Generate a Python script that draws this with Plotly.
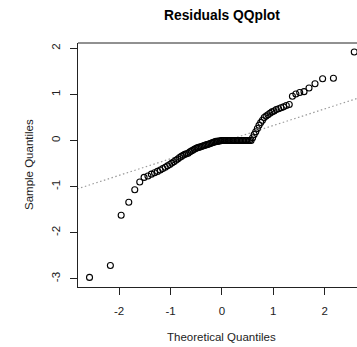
import numpy as np
import plotly.graph_objects as go
from statistics import NormalDist

# Sorted residuals (sample quantiles)
residuals = [
    -2.97, -2.71, -1.62, -1.34, -1.07, -0.90, -0.80, -0.77, -0.73, -0.70,
    -0.67, -0.64, -0.61, -0.58, -0.55, -0.52, -0.49, -0.46, -0.43, -0.40,
    -0.37, -0.345, -0.32, -0.30, -0.29, -0.275, -0.25, -0.23, -0.21, -0.19,
    -0.175, -0.16, -0.15, -0.14, -0.13, -0.12, -0.11, -0.10, -0.09, -0.08,
    -0.07, -0.06, -0.05, -0.04, -0.03, -0.02, -0.02, -0.01, -0.01, 0.00,
    0.00, 0.00, 0.00, 0.00, 0.00, 0.00, 0.00, 0.00, 0.00, 0.00,
    0.00, 0.00, 0.00, 0.00, 0.00, 0.00, 0.00, 0.00, 0.00, 0.00,
    0.00, 0.00, 0.06, 0.13, 0.19, 0.26, 0.33, 0.39, 0.44, 0.50,
    0.53, 0.56, 0.59, 0.62, 0.64, 0.67, 0.69, 0.71, 0.73, 0.76,
    0.78, 0.96, 1.01, 1.04, 1.06, 1.14, 1.23, 1.34, 1.35, 1.92,
]

x_ticks = [-2, -1, 0, 1, 2]
y_ticks = [-3, -2, -1, 0, 1, 2]

title_text = "Residuals QQplot"
x_label = "Theoretical Quantiles"
y_label = "Sample Quantiles"

# Theoretical normal quantiles, ppoints(n) with a = 0.5
n = len(residuals)
nd = NormalDist()
theo = [nd.inv_cdf((i - 0.5) / n) for i in range(1, n + 1)]

# Reference line through the first and third quartiles
q1, q3 = np.percentile(residuals, [25, 75])
z1, z3 = nd.inv_cdf(0.25), nd.inv_cdf(0.75)
slope = (q3 - q1) / (z3 - z1)
intercept = q1 - slope * z1
line_x = [-4.0, 4.0]
line_y = [intercept + slope * v for v in line_x]

FONT = "Liberation Sans, Arial, Helvetica, sans-serif"
INK = "#222222"

fig = go.Figure()
fig.add_trace(go.Scatter(
    x=line_x, y=line_y, mode="lines",
    line=dict(color="#9a9a9a", width=1.2, dash="1.5px,2.5px"),
    hoverinfo="skip", showlegend=False,
))
fig.add_trace(go.Scatter(
    x=theo, y=residuals, mode="markers",
    marker=dict(symbol="circle-open", size=6, color="black",
                line=dict(width=1.1, color="black")),
    showlegend=False,
))

axis_common = dict(
    showgrid=False, zeroline=False, showline=True, linecolor=INK,
    linewidth=1, ticks="outside", ticklen=7, tickwidth=1, tickcolor=INK,
    tickfont=dict(family=FONT, size=11.5, color=INK),
)

fig.update_layout(
    width=357, height=347,
    margin=dict(l=78, r=0, t=43, b=60),
    paper_bgcolor="white", plot_bgcolor="white",
    xaxis=dict(range=[-2.80, 2.629], tickvals=x_ticks,
               ticktext=[str(v) for v in x_ticks],
               ticklabelstandoff=6, **axis_common),
    yaxis=dict(range=[-3.178, 2.115], tickvals=y_ticks,
               ticktext=[str(v) for v in y_ticks], tickangle=-90,
               ticklabelstandoff=5, **axis_common),
    shapes=[dict(type="line", xref="paper", yref="paper",
                 x0=0, x1=1.05, y0=1, y1=1,
                 line=dict(color=INK, width=1))],
    annotations=[
        dict(text=title_text, xref="paper", yref="paper", x=0.516, y=1.112,
             xanchor="center", yanchor="middle", showarrow=False,
             font=dict(family=FONT, size=13.8, color="black", weight="bold")),
        dict(text=x_label, xref="paper", yref="paper", x=0.516, y=-0.205,
             xanchor="center", yanchor="middle", showarrow=False,
             font=dict(family=FONT, size=11.5, color=INK)),
        dict(text=y_label, xref="paper", yref="paper", x=-0.1756, y=0.5,
             xanchor="center", yanchor="middle", showarrow=False,
             textangle=-90, font=dict(family=FONT, size=11.5, color=INK)),
    ],
)

fig.write_html("out.html")
